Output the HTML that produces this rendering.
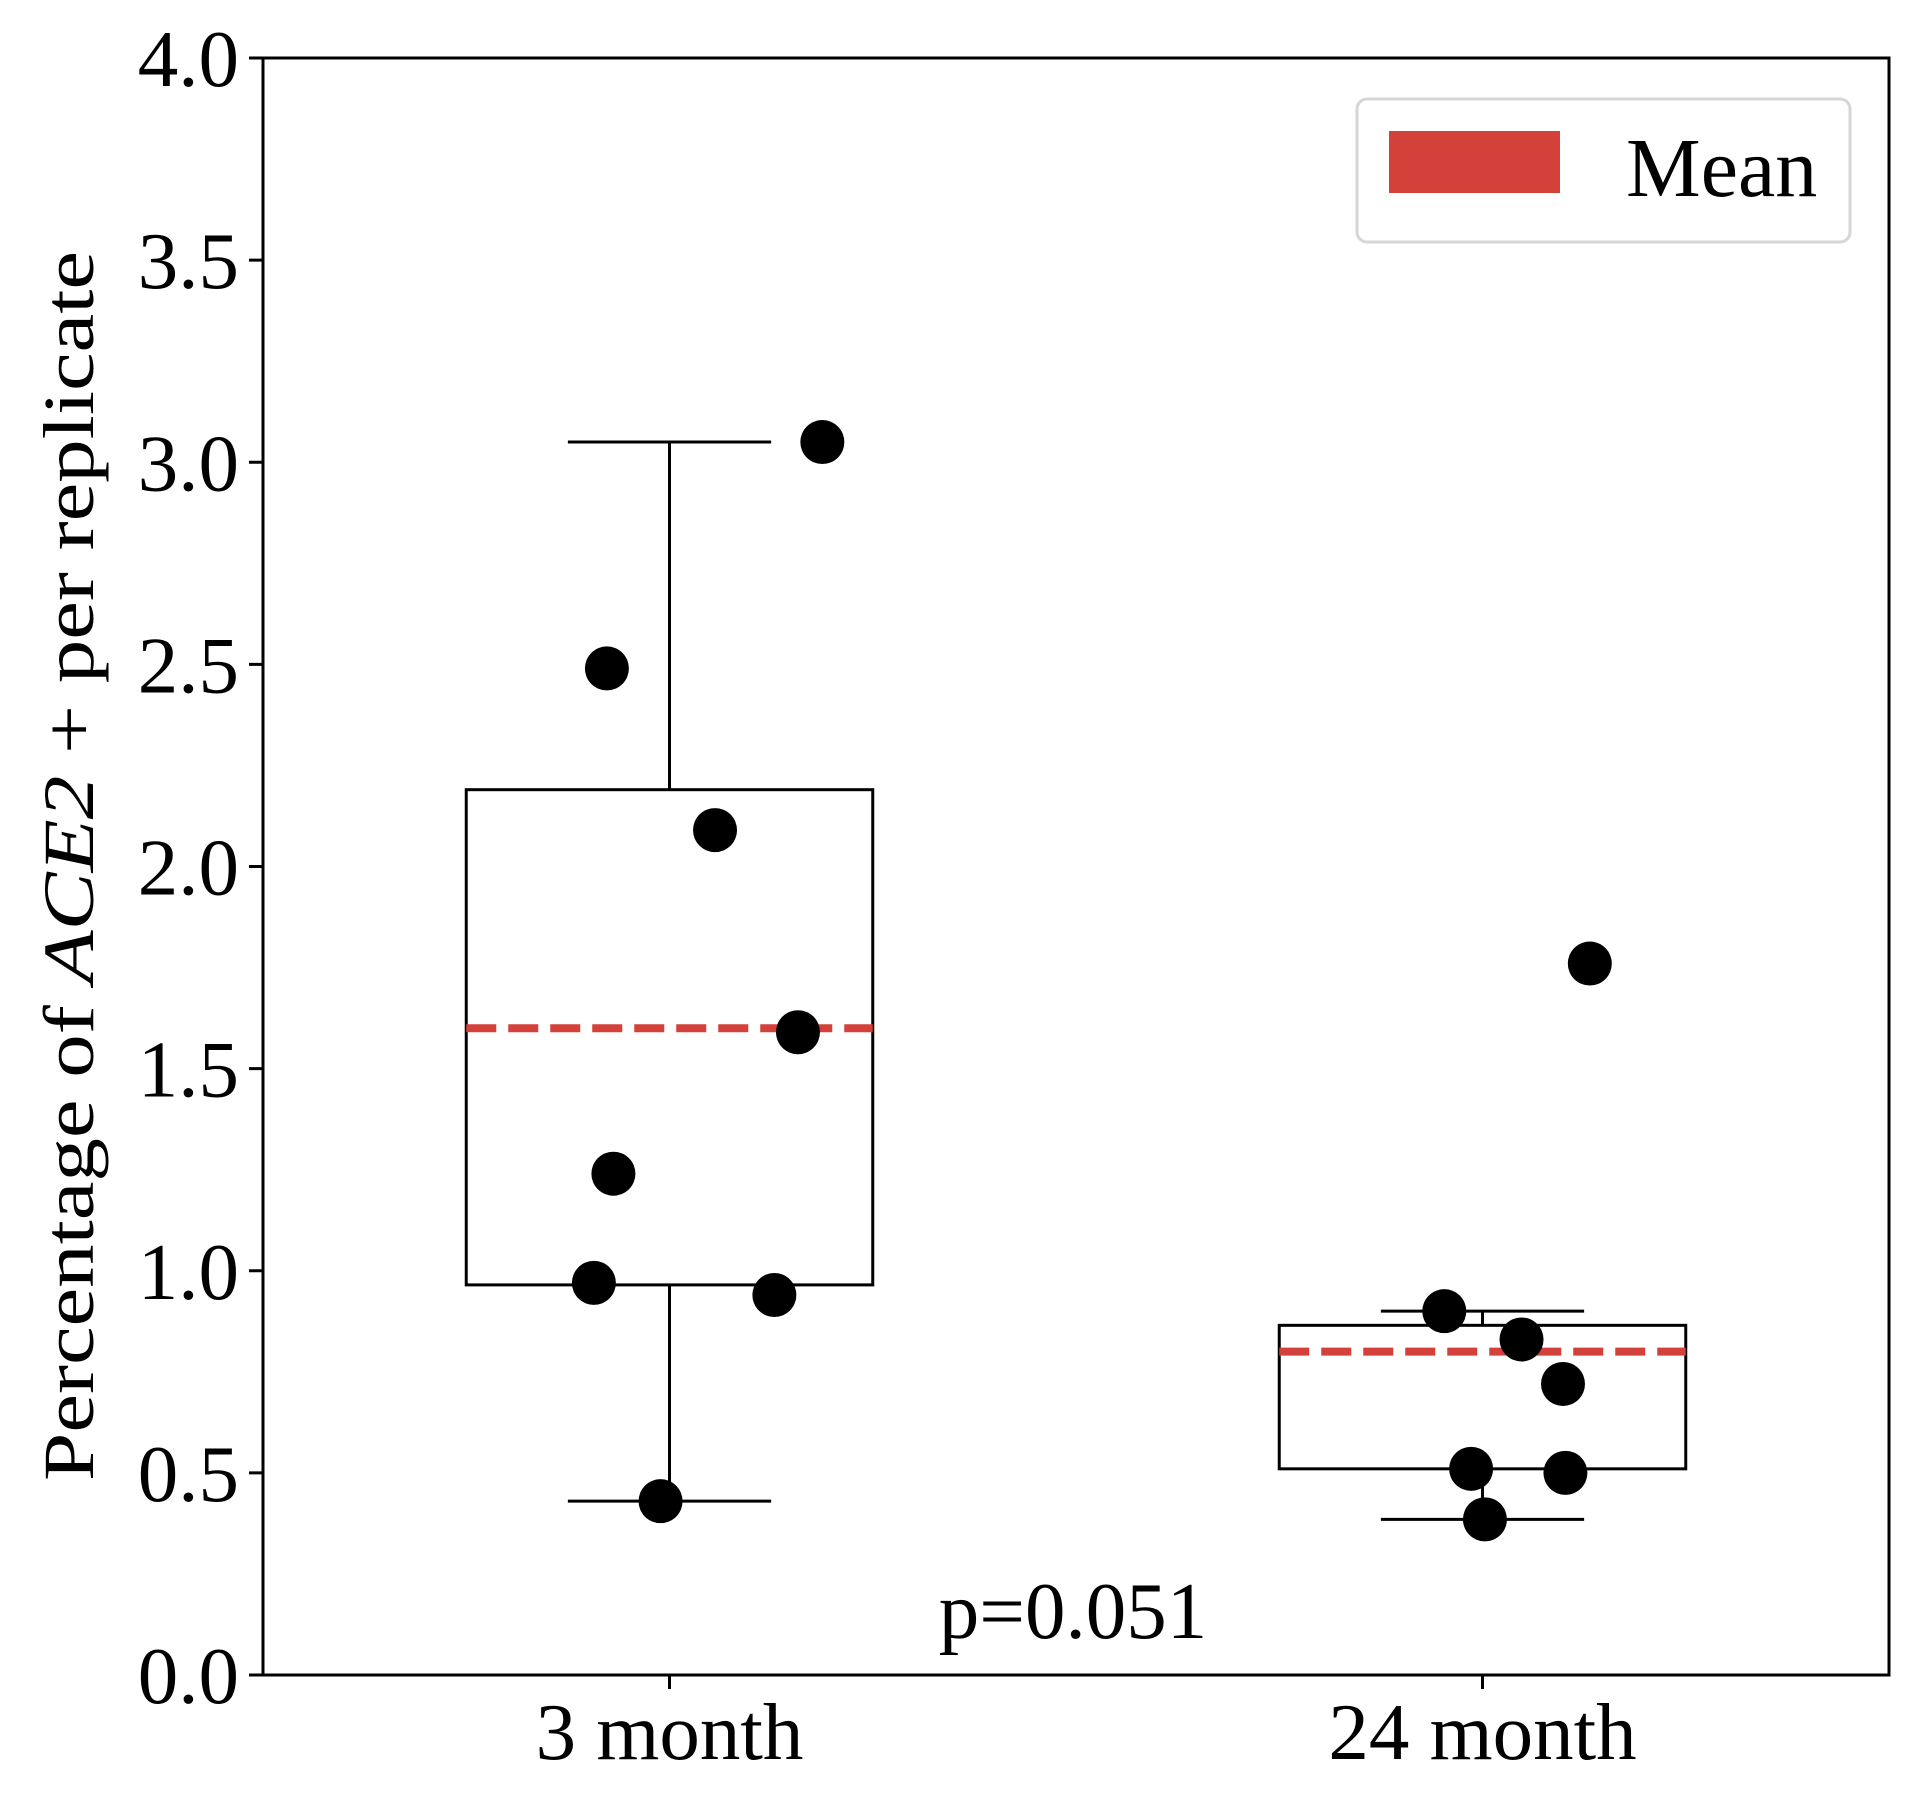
<!DOCTYPE html>
<html><head><meta charset="utf-8"><style>html,body{margin:0;padding:0;background:#fff}svg{display:block}</style></head>
<body>
<svg id="chart" width="1919" height="1808" xmlns="http://www.w3.org/2000/svg" font-family="'Liberation Serif', serif">
<rect width="1919" height="1808" fill="#fff"/>
<g id="plot"></g>
<text transform="translate(93,866) rotate(-90)" text-anchor="middle" font-size="72" textLength="1230" lengthAdjust="spacingAndGlyphs">Percentage of <tspan font-style="italic">ACE2</tspan> +  per replicate</text>
<text x="1073" y="1638" text-anchor="middle" font-size="81">p=0.051</text>
<g>
<rect x="1357" y="99" width="493" height="143" rx="10" fill="#fff" stroke="#d6d6d6" stroke-width="3"/>
<rect x="1389" y="131" width="171" height="62" fill="#d4403a"/>
<text x="1626" y="196" font-size="84">Mean</text>
</g>
</svg>
<script>
const categories = ["3 month", "24 month"];
const q1 = [0.965, 0.51];
const q3 = [2.19, 0.865];
const median = [1.6, 0.87];
const whiskerLow = [0.43, 0.385];
const whiskerHigh = [3.05, 0.90];
const means = [1.60, 0.80];
const pointsA = [2.49, 2.09, 1.59, 1.24, 0.97, 0.94, 0.43, 3.05];
const jitterA = [-0.077, 0.056, 0.158, -0.069, -0.093, 0.129, -0.011, 0.188];
const pointsB = [0.90, 0.83, 0.72, 0.51, 0.50, 0.385, 1.76];
const jitterB = [-0.047, 0.048, 0.099, -0.014, 0.102, 0.003, 0.132];
const yTicks = [0, 0.5, 1.0, 1.5, 2.0, 2.5, 3.0, 3.5, 4.0];
const yTickLabels = ["0.0","0.5","1.0","1.5","2.0","2.5","3.0","3.5","4.0"];

const L=263,R=1889,T=58,B=1675;
const xs=v=>L+(v-0.5)/2*(R-L);
const ys=v=>B-v/4*(B-T);
const NS="http://www.w3.org/2000/svg";
const g=document.getElementById('plot');
function mk(tag,attrs,parent){const e=document.createElementNS(NS,tag);for(const k in attrs)e.setAttribute(k,attrs[k]);(parent||g).appendChild(e);return e;}

const frame=mk('rect',{x:L,y:T,width:R-L,height:B-T,fill:'none',stroke:'#000','stroke-width':3});



yTicks.forEach((v,i)=>{
  const t=mk('line',{x1:L-14,x2:L,y1:ys(v),y2:ys(v),stroke:'#000','stroke-width':3});
  
  
  const lb=mk('text',{x:L-24,y:ys(v)+28,'text-anchor':'end','font-size':81});
  lb.textContent=yTickLabels[i];
  
  
});
categories.forEach((c,i)=>{
  const x=xs(i+1);
  const t=mk('line',{x1:x,x2:x,y1:B,y2:B+14,stroke:'#000','stroke-width':3});
  
  
  const lb=mk('text',{x:x,y:1759,'text-anchor':'middle','font-size':81});
  lb.textContent=c;
  
  
});

const bw=0.5;
categories.forEach((c,i)=>{
  const p=i+1;
  const wl=mk('line',{x1:xs(p),x2:xs(p),y1:ys(q1[i]),y2:ys(whiskerLow[i]),stroke:'#000','stroke-width':3});
  
  
  const wh=mk('line',{x1:xs(p),x2:xs(p),y1:ys(q3[i]),y2:ys(whiskerHigh[i]),stroke:'#000','stroke-width':3});
  
  
  [whiskerLow[i],whiskerHigh[i]].forEach(v=>{
    const cp=mk('line',{x1:xs(p-bw/4),x2:xs(p+bw/4),y1:ys(v),y2:ys(v),stroke:'#000','stroke-width':3});
    
    
  });
  const bx=mk('rect',{x:xs(p-bw/2),y:ys(q3[i]),width:xs(p+bw/2)-xs(p-bw/2),height:ys(q1[i])-ys(q3[i]),fill:'none',stroke:'#000','stroke-width':3});
  
  
  const ml=mk('line',{x1:xs(p-bw/2),x2:xs(p+bw/2),y1:ys(means[i]),y2:ys(means[i]),stroke:'#d4403a','stroke-width':8,'stroke-dasharray':'30 12'});
  
  
});
[[pointsA,jitterA,1],[pointsB,jitterB,2]].forEach(([pts,jit,p])=>{
  pts.forEach((v,j)=>{
    const c=mk('circle',{cx:xs(p+jit[j]),cy:ys(v),r:22,fill:'#000'});
    
    
  });
});
</script>
</body></html>
